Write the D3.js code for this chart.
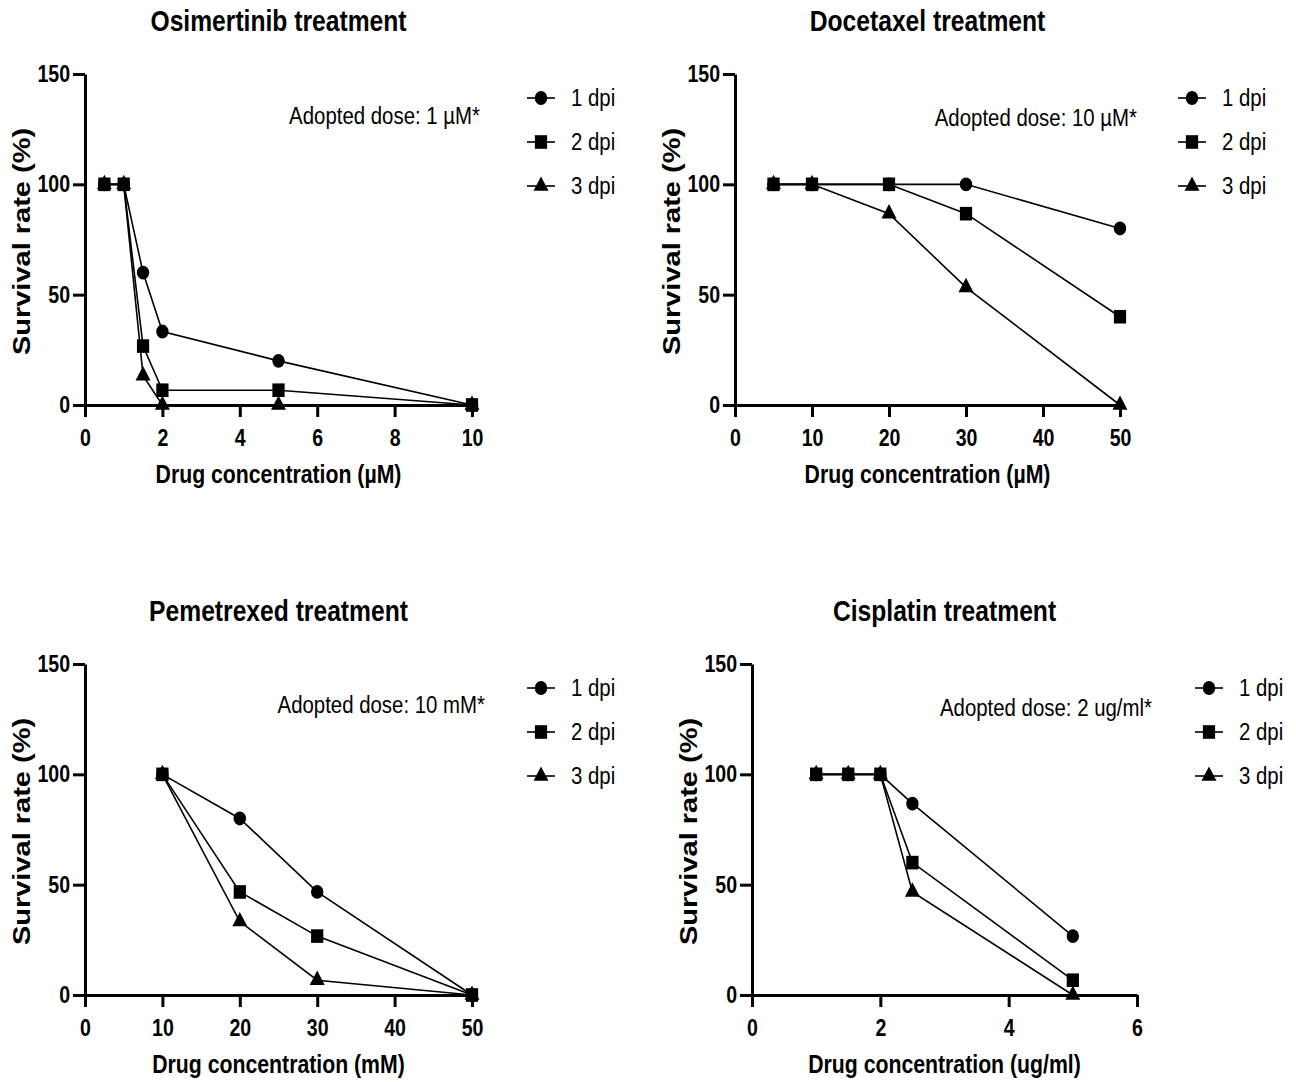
<!DOCTYPE html>
<html>
<head>
<meta charset="utf-8">
<script src="https://cdn.jsdelivr.net/npm/d3@7"></script>
<style>
  body { margin: 0; background: #fff; }
  text { font-family: "Liberation Sans", Arial, sans-serif; fill: #000; }
</style>
</head>
<body>
<div id="chart"></div>
<script>
// four dose-response panels (survival rate vs drug concentration)

// ---- data ----
const seriesNames = ["1 dpi", "2 dpi", "3 dpi"];
const yTicks = [0, 50, 100, 150];

const osiConc = [0.5, 1, 1.5, 2, 5, 10];
const osi1dpi = [100, 100, 60, 33.3, 20, 0];
const osi2dpi = [100, 100, 26.7, 6.7, 6.7, 0];
const osi3dpi = [100, 100, 13.3, 0, 0, 0];
const osiTicks = [0, 2, 4, 6, 8, 10];

const docConc = [5, 10, 20, 30, 50];
const doc1dpi = [100, 100, 100, 100, 80];
const doc2dpi = [100, 100, 100, 86.7, 40];
const doc3dpi = [100, 100, 86.7, 53.3, 0];
const docTicks = [0, 10, 20, 30, 40, 50];

const pemConc = [10, 20, 30, 50];
const pem1dpi = [100, 80, 46.7, 0];
const pem2dpi = [100, 46.7, 26.7, 0];
const pem3dpi = [100, 33.3, 6.7, 0];
const pemTicks = [0, 10, 20, 30, 40, 50];

const cisConc = [1, 1.5, 2, 2.5, 5];
const cis1dpi = [100, 100, 100, 86.7, 26.7];
const cis2dpi = [100, 100, 100, 60, 6.7];
const cis3dpi = [100, 100, 100, 46.7, 0];
const cisTicks = [0, 2, 4, 6];

// ---- layout ----
const W = 1296, H = 1082;
const SX = 0.85; // the figure is squeezed horizontally
const symbols = [d3.symbolCircle, d3.symbolSquare, d3.symbolTriangle];
const symSizes = [150, 185, 120];

const panels = [
  { title: "Osimertinib treatment", xLabel: "Drug concentration (µM)", note: "Adopted dose: 1 µM*",
    conc: osiConc, values: [osi1dpi, osi2dpi, osi3dpi], ticks: osiTicks,
    x0: 85, x1: 472, top: 74, bottom: 405, noteX: 480, noteY: 124, legX: 541 },
  { title: "Docetaxel treatment", xLabel: "Drug concentration (µM)", note: "Adopted dose: 10 µM*",
    conc: docConc, values: [doc1dpi, doc2dpi, doc3dpi], ticks: docTicks,
    x0: 735, x1: 1120, top: 74, bottom: 405, noteX: 1137, noteY: 126, legX: 1192 },
  { title: "Pemetrexed treatment", xLabel: "Drug concentration (mM)", note: "Adopted dose: 10 mM*",
    conc: pemConc, values: [pem1dpi, pem2dpi, pem3dpi], ticks: pemTicks,
    x0: 85, x1: 472, top: 664, bottom: 995, noteX: 485, noteY: 713, legX: 541 },
  { title: "Cisplatin treatment", xLabel: "Drug concentration (ug/ml)", note: "Adopted dose: 2 ug/ml*",
    conc: cisConc, values: [cis1dpi, cis2dpi, cis3dpi], ticks: cisTicks,
    x0: 752, x1: 1137, top: 664, bottom: 995, noteX: 1152, noteY: 716, legX: 1209 }
];

const svg = d3.select("#chart").append("svg")
  .attr("width", W)
  .attr("height", H)
  .attr("viewBox", `0 0 ${W} ${H}`);

// squeezed text helper
function label(g, x, y, str, size, weight, anchor, rotate) {
  return g.append("text")
    .attr("transform", `translate(${x},${y}) scale(${SX},1)` + (rotate ? " rotate(-90)" : ""))
    .attr("text-anchor", anchor)
    .style("font-size", size + "px")
    .style("font-weight", weight)
    .text(str);
}

function marker(g, i, x, y) {
  g.append("path")
    .attr("d", d3.symbol().type(symbols[i]).size(symSizes[i])())
    .attr("transform", `translate(${x},${y}) scale(0.9,1)`)
    .attr("fill", "#000");
}

panels.forEach(p => {
  const g = svg.append("g");
  const x = d3.scaleLinear().domain([0, d3.max(p.ticks)]).range([p.x0, p.x1]);
  const y = d3.scaleLinear().domain([0, 150]).range([p.bottom, p.top]);

  // axes
  const gy = g.append("g").attr("transform", `translate(${p.x0},0)`)
    .call(d3.axisLeft(y).tickValues(yTicks).tickSize(12).tickSizeOuter(0).tickPadding(3)
      .tickFormat(d3.format("d")));
  const gx = g.append("g").attr("transform", `translate(0,${p.bottom})`)
    .call(d3.axisBottom(x).tickValues(p.ticks).tickSize(12).tickSizeOuter(0).tickPadding(13)
      .tickFormat(d3.format("d")));

  [gx, gy].forEach(ax => {
    ax.selectAll("path, line").attr("stroke", "#000").attr("stroke-width", 3);
    ax.selectAll("text")
      .style("font-size", "23px")
      .style("font-weight", "bold")
      .style("font-family", "'Liberation Sans', Arial, sans-serif")
      .attr("fill", "#000")
      .attr("x", function () { return (+this.getAttribute("x") || 0) / SX; })
      .attr("transform", `scale(${SX},1)`);
  });

  // titles
  label(g, (p.x0 + p.x1) / 2, p.top - 43, p.title, 29, "bold", "middle");
  label(g, (p.x0 + p.x1) / 2, p.bottom + 78, p.xLabel, 25, "bold", "middle");
  label(g, p.x0 - 55, (p.top + p.bottom) / 2 + 2, "Survival rate (%)", 29, "bold", "middle", true);
  label(g, p.noteX, p.noteY, p.note, 24, "normal", "end");

  // lines
  const lineGen = d3.line().x(d => x(d[0])).y(d => y(d[1]));
  p.values.forEach(vals => {
    g.append("path")
      .datum(p.conc.map((c, j) => [c, vals[j]]))
      .attr("d", lineGen)
      .attr("fill", "none")
      .attr("stroke", "#000")
      .attr("stroke-width", 1.6);
  });

  // markers (squares end up on top)
  [0, 2, 1].forEach(i => {
    p.values[i].forEach((v, j) => marker(g, i, x(p.conc[j]), y(v)));
  });

  // legend
  seriesNames.forEach((name, i) => {
    const ly = p.top + 24 + i * 44;
    g.append("line")
      .attr("x1", p.legX - 14).attr("x2", p.legX + 14)
      .attr("y1", ly).attr("y2", ly)
      .attr("stroke", "#000").attr("stroke-width", 1.6);
    marker(g, i, p.legX, ly);
    label(g, p.legX + 30, ly + 8, name, 24, "normal", "start");
  });
});
</script>
</body>
</html>
